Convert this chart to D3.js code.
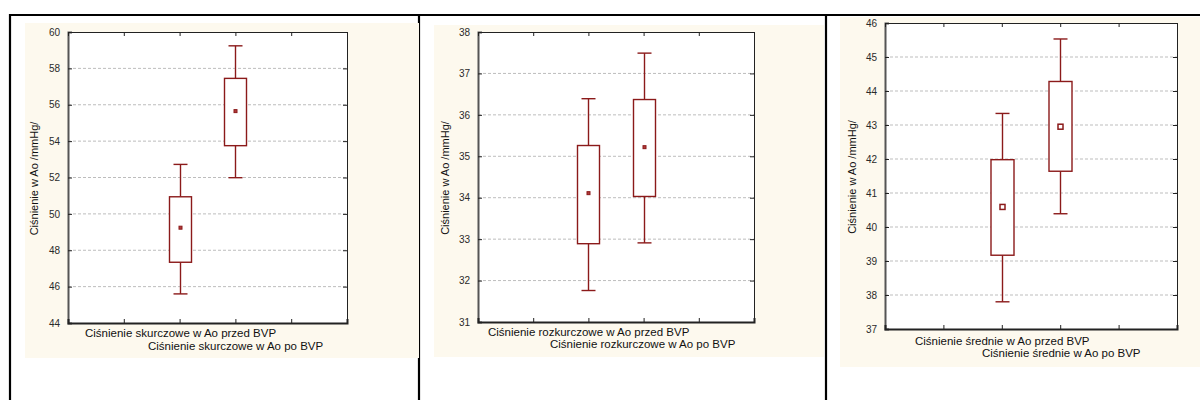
<!DOCTYPE html>
<html>
<head>
<meta charset="utf-8">
<script src="https://cdn.jsdelivr.net/npm/d3@7"></script>
<style>
  html, body { margin: 0; padding: 0; background: #fff; }
  svg { display: block; font-family: Arial, "Liberation Sans", sans-serif; }
</style>
</head>
<body>
<svg id="chart" width="1200" height="400"></svg>
<script>
// Box plots of aortic pressure before/after BVP (mean, box = ±SE, whiskers = ±SD)

const yAxisTitle = "Ciśnienie w Ao /mmHg/";

// Systolic
const skurczCategories = ["Ciśnienie skurczowe w Ao przed BVP", "Ciśnienie skurczowe w Ao po BVP"];
const skurczMean = [49.24, 55.65];
const skurczBoxLow = [47.34, 53.75];
const skurczBoxHigh = [50.94, 57.45];
const skurczWhiskerLow = [45.6, 51.99];
const skurczWhiskerHigh = [52.72, 59.24];
const skurczTicks = [44, 46, 48, 50, 52, 54, 56, 58, 60];

// Diastolic
const rozkCategories = ["Ciśnienie rozkurczowe w Ao przed BVP", "Ciśnienie rozkurczowe w Ao po BVP"];
const rozkMean = [34.11, 35.22];
const rozkBoxLow = [32.89, 34.03];
const rozkBoxHigh = [35.26, 36.37];
const rozkWhiskerLow = [31.76, 32.91];
const rozkWhiskerHigh = [36.39, 37.49];
const rozkTicks = [31, 32, 33, 34, 35, 36, 37, 38];

// Mean pressure
const sredCategories = ["Ciśnienie średnie w Ao przed BVP", "Ciśnienie średnie w Ao po BVP"];
const sredMean = [40.59, 42.95];
const sredBoxLow = [39.17, 41.64];
const sredBoxHigh = [41.98, 44.28];
const sredWhiskerLow = [37.8, 40.39];
const sredWhiskerHigh = [43.34, 45.53];
const sredTicks = [37, 38, 39, 40, 41, 42, 43, 44, 45, 46];

// Category slots on the x axis (0..5), two boxes at positions 2 and 3
const xSlots = [0, 1, 2, 3, 4, 5];
const boxSlots = [2, 3];

const svg = d3.select("#chart");
const boxColor = "#8b1a1a";

// Cell borders
const border = svg.append("g").attr("stroke", "#000").attr("stroke-width", 2.2);
border.append("line").attr("x1", 9).attr("x2", 1200).attr("y1", 15).attr("y2", 15);
[10, 419, 826].forEach(x =>
  border.append("line").attr("x1", x).attr("x2", x).attr("y1", 14).attr("y2", 400));

const panels = [
  {
    bg: [25, 23, 394, 335],
    plot: { left: 68, right: 347, top: 32, bottom: 323 },
    titleX: 38,
    labels: [[85, 337], [148, 350]],
    cats: skurczCategories, mean: skurczMean, boxLow: skurczBoxLow, boxHigh: skurczBoxHigh,
    wLow: skurczWhiskerLow, wHigh: skurczWhiskerHigh, ticks: skurczTicks,
    openMean: false, boxW: 22
  },
  {
    bg: [434, 25, 390, 332],
    plot: { left: 478, right: 754, top: 32, bottom: 322 },
    titleX: 449,
    labels: [[488, 336], [550, 348]],
    cats: rozkCategories, mean: rozkMean, boxLow: rozkBoxLow, boxHigh: rozkBoxHigh,
    wLow: rozkWhiskerLow, wHigh: rozkWhiskerHigh, ticks: rozkTicks,
    openMean: false, boxW: 22
  },
  {
    bg: [840, 17, 360, 350],
    plot: { left: 885, right: 1177, top: 23, bottom: 329 },
    titleX: 856,
    labels: [[915, 345], [982, 357]],
    cats: sredCategories, mean: sredMean, boxLow: sredBoxLow, boxHigh: sredBoxHigh,
    wLow: sredWhiskerLow, wHigh: sredWhiskerHigh, ticks: sredTicks,
    openMean: true, boxW: 23
  }
];

panels.forEach(p => {
  const g = svg.append("g");
  g.append("rect")
    .attr("x", p.bg[0]).attr("y", p.bg[1])
    .attr("width", p.bg[2]).attr("height", p.bg[3])
    .attr("fill", "#fdf9ee");

  const { left, right, top, bottom } = p.plot;
  const w = right - left, h = bottom - top;
  const x = d3.scaleLinear().domain([0, 5]).range([left, right]);
  const y = d3.scaleLinear().domain(d3.extent(p.ticks)).range([bottom, top]);

  g.append("rect").attr("x", left).attr("y", top).attr("width", w).attr("height", h)
    .attr("fill", "#fff");

  // Dashed horizontal grid
  const inner = p.ticks.slice(1, -1);
  g.append("g").selectAll("line").data(inner).join("line")
    .attr("x1", left).attr("x2", right)
    .attr("y1", d => y(d)).attr("y2", d => y(d))
    .attr("stroke", "#bdbdbd").attr("stroke-width", 1).attr("stroke-dasharray", "3,2");

  // Axes with inward ticks
  const yl = g.append("g").attr("transform", `translate(${left},0)`)
    .call(d3.axisLeft(y).tickValues(p.ticks).tickSize(-4).tickPadding(8).tickFormat(d3.format("d")));
  const yr = g.append("g").attr("transform", `translate(${right},0)`)
    .call(d3.axisRight(y).tickValues(p.ticks).tickSize(-4).tickFormat(""));
  const xt = g.append("g").attr("transform", `translate(0,${top})`)
    .call(d3.axisTop(x).tickValues(xSlots).tickSize(-4).tickFormat(""));
  const xb = g.append("g").attr("transform", `translate(0,${bottom})`)
    .call(d3.axisBottom(x).tickValues(xSlots).tickSize(-4).tickFormat(""));
  [yl, yr, xt, xb].forEach(a => {
    a.select(".domain").attr("stroke", "#222");
    a.selectAll(".tick line").attr("stroke", "#222");
  });
  yl.select(".domain").attr("stroke", "#555").attr("stroke-width", 2);
  xb.select(".domain").attr("stroke-width", 2);
  yl.selectAll(".tick text").attr("font-size", 10).attr("fill", "#2a2a2a")
    .attr("font-family", "Arial, 'Liberation Sans', sans-serif");

  // Axis title
  g.append("text")
    .attr("transform", `translate(${p.titleX},${(top + bottom) / 2 + 1}) rotate(-90)`)
    .attr("text-anchor", "middle").attr("font-size", 11).attr("fill", "#111")
    .text(yAxisTitle);

  // Category labels, staggered
  p.cats.forEach((c, i) => {
    g.append("text").attr("x", p.labels[i][0]).attr("y", p.labels[i][1])
      .attr("font-size", 11.5).attr("fill", "#111").text(c);
  });

  // Boxes
  const capW = 14;
  p.cats.forEach((c, i) => {
    const cx = Math.round(x(boxSlots[i])) + 0.5;
    const bg = g.append("g").attr("stroke", boxColor).attr("stroke-width", 1.4).attr("fill", "none");
    bg.append("line").attr("x1", cx).attr("x2", cx)
      .attr("y1", y(p.wHigh[i])).attr("y2", y(p.boxHigh[i]));
    bg.append("line").attr("x1", cx).attr("x2", cx)
      .attr("y1", y(p.boxLow[i])).attr("y2", y(p.wLow[i]));
    bg.append("line").attr("x1", cx - capW / 2).attr("x2", cx + capW / 2)
      .attr("y1", y(p.wHigh[i])).attr("y2", y(p.wHigh[i]));
    bg.append("line").attr("x1", cx - capW / 2).attr("x2", cx + capW / 2)
      .attr("y1", y(p.wLow[i])).attr("y2", y(p.wLow[i]));
    bg.append("rect")
      .attr("x", cx - p.boxW / 2).attr("width", p.boxW)
      .attr("y", y(p.boxHigh[i])).attr("height", y(p.boxLow[i]) - y(p.boxHigh[i]))
      .attr("fill", "#fff");
    if (p.openMean) {
      bg.append("rect").attr("x", cx - 2.5).attr("y", y(p.mean[i]) - 2.5)
        .attr("width", 5).attr("height", 5).attr("fill", "#fff").attr("stroke-width", 1.5);
    } else {
      bg.append("rect").attr("x", cx - 1.5).attr("y", y(p.mean[i]) - 1.5)
        .attr("width", 3).attr("height", 3).attr("fill", "#b03a3a").attr("stroke-width", 1);
    }
  });
});
</script>
</body>
</html>
